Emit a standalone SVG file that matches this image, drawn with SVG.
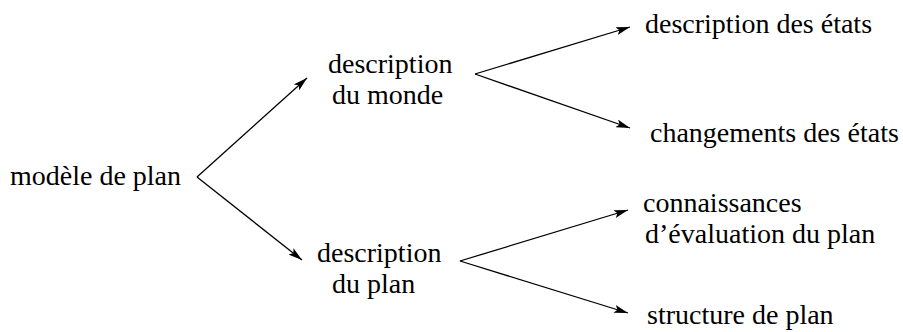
<svg xmlns="http://www.w3.org/2000/svg" width="903" height="332" viewBox="0 0 903 332">
<style>
text{font-family:"Liberation Serif","Times New Roman",serif;font-size:28px;fill:#000}
.c{fill:none;stroke:#000;stroke-width:1.3}
</style>
<defs>
<marker id="ah" viewBox="0 0 14 8" refX="14" refY="4" markerWidth="14" markerHeight="8" markerUnits="userSpaceOnUse" orient="auto">
<path d="M0,0 L14,4 L0,8 L3,4 Z" fill="#000"/>
</marker>
</defs>
<rect width="903" height="332" fill="#fff"/>
<g id="connectors">
<path class="c" d="M197,177 L307,78" marker-end="url(#ah)"/>
<path class="c" d="M197,177 L302,260" marker-end="url(#ah)"/>
<path class="c" d="M475,74 L630,27" marker-end="url(#ah)"/>
<path class="c" d="M475,74 L630,128" marker-end="url(#ah)"/>
<path class="c" d="M460,261 L628,210" marker-end="url(#ah)"/>
<path class="c" d="M460,261 L628,313" marker-end="url(#ah)"/>
</g>
<g id="n-modele"><text x="10" y="185">modèle de plan</text></g>
<g id="n-monde"><text x="328" y="73">description</text><text x="332" y="104">du monde</text></g>
<g id="n-plan"><text x="317" y="262">description</text><text x="332" y="293">du plan</text></g>
<g id="n-etats"><text x="645" y="33">description des états</text></g>
<g id="n-chg"><text x="650" y="142">changements des états</text></g>
<g id="n-conn"><text x="643" y="212">connaissances</text><text x="645" y="243">d’évaluation du plan</text></g>
<g id="n-struct"><text x="647" y="324">structure de plan</text></g>
</svg>
